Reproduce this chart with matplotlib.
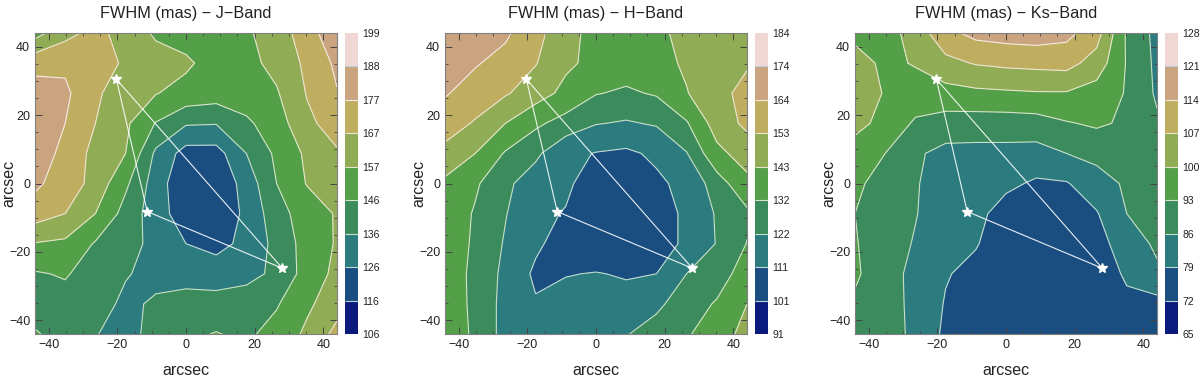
import matplotlib.pyplot as plt
import numpy as np
from matplotlib.colors import to_rgb
from matplotlib.ticker import MultipleLocator

plt.rcParams["font.family"] = ["Liberation Sans", "DejaVu Sans"]

# 11 x 11 sampling grid across the field (arcsec)
grid = np.linspace(-44, 44, 11)

# FWHM (mas); each row runs x = -44 .. 44, rows go from y = +44 down to y = -44
fwhm_j = [
    [153, 164, 170, 163, 155.6, 152, 151, 155.5, 162, 172, 185],
    [174, 175, 172, 165.5, 161, 159, 152, 154, 160, 169, 179],
    [181, 179, 168.5, 162, 157.5, 153, 151, 152, 156, 167.5, 176.5],
    [184, 177, 167, 159, 145.5, 137, 136.5, 144, 152, 165, 171],
    [183, 174, 164, 157, 134, 122, 122, 136, 148, 159, 166],
    [179, 172, 164, 148, 131, 118, 118, 130, 146, 157.5, 163],
    [172, 167, 157, 142, 131, 120, 119, 128, 142, 151, 158],
    [156.5, 155, 145, 140, 133, 126, 123, 128.5, 139, 150, 158],
    [145, 147, 141, 136.5, 134, 131, 131, 133, 138, 150, 160],
    [141, 142, 139, 134.5, 137, 141, 140, 141, 145, 155, 163],
    [147, 142, 136.5, 132, 140, 144, 146.5, 144, 150, 159, 170],
]
fwhm_h = [
    [170, 168, 166, 156, 147, 139, 138, 140, 147, 150, 151],
    [168, 165, 160, 153.5, 145, 140, 137, 139.5, 144.5, 149, 152],
    [165, 159, 154, 148, 140, 132.5, 130.5, 133, 142.5, 150, 156],
    [158, 152, 143, 134, 128, 122.5, 121, 123, 131, 148, 155],
    [150, 143, 131, 124, 114, 110.5, 109, 113, 121.5, 140, 148],
    [141, 133.5, 124, 117, 113.5, 104, 103, 109, 114, 127, 140],
    [139, 131, 122.5, 114, 110.2, 103, 102, 106, 113, 123, 130],
    [138, 130.5, 121, 113, 106, 103, 103, 106, 113, 122.5, 132.3],
    [138, 129.5, 119.5, 109, 110.5, 111.5, 110, 111, 122, 127, 137],
    [140, 129, 119, 112, 115, 116, 115, 120, 127, 133, 143],
    [143, 129, 119, 116, 117, 119, 121.5, 126, 131, 137, 147],
]
fwhm_ks = [
    [98, 97, 103, 112, 116, 117, 117.5, 116, 110, 92, 84],
    [103, 98.5, 100.5, 105, 107.5, 108.5, 109, 109.5, 104, 92.5, 84.5],
    [104, 99.5, 97, 97.5, 98.5, 99, 99.5, 99.5, 97, 92.5, 85],
    [102, 98, 92, 90, 89.5, 89.5, 90, 92.5, 94, 92, 87],
    [97, 93, 87, 84, 84, 84, 83.5, 86, 88, 90, 89],
    [94.5, 90, 86.5, 83, 82.5, 80.5, 78, 78.5, 83, 87, 90],
    [93, 89, 86.3, 82.5, 81, 76, 75, 75, 78.5, 86, 89],
    [93.5, 89, 85.5, 82, 79.5, 75, 74, 74.5, 76, 83, 87],
    [94, 89, 84, 79.5, 77, 74, 73.5, 74, 75, 80, 85],
    [92, 88.5, 84.5, 78.5, 76, 73.5, 73, 73.5, 74, 77.5, 76.5],
    [90, 88, 85, 77.5, 75, 73, 73, 73, 73, 76, 75.5],
]

levels_j = [106, 116, 126, 136, 146, 157, 167, 177, 188, 199]
levels_h = [91, 101, 111, 122, 132, 143, 153, 164, 174, 184]
levels_ks = [65, 72, 79, 86, 93, 100, 107, 114, 121, 128]

titles = ["FWHM (mas) \u2212 J\u2212Band", "FWHM (mas) \u2212 H\u2212Band",
          "FWHM (mas) \u2212 Ks\u2212Band"]

# guide star positions (arcsec)
star_x = [-20.3, -11.3, 28.1]
star_y = [30.5, -8.2, -24.8]

band_colors = ["#0b1a7d", "#1a4e80", "#2b7b7f", "#3b8b5d", "#53a049",
               "#90ac55", "#bfae5f", "#c9a47f", "#f0d7d3"]

# contour lines: a pale tint of the two neighbouring bands
line_colors = []
for k in range(len(band_colors) - 1):
    mid = (np.array(to_rgb(band_colors[k])) + np.array(to_rgb(band_colors[k + 1]))) / 2
    line_colors.append(tuple(mid * 0.3 + 0.7))

W, H = 1200, 380
fig = plt.figure(figsize=(W / 100, H / 100), dpi=100)

panels = [(fwhm_j, levels_j), (fwhm_h, levels_h), (fwhm_ks, levels_ks)]
lefts = [35, 445, 855]

for i, (data, levels) in enumerate(panels):
    ax = fig.add_axes([lefts[i] / W, 46 / H, 302 / W, 301 / H])
    cax = fig.add_axes([(lefts[i] + 310) / W, 46 / H, 13 / W, 301 / H])

    z = np.array(data)[::-1]
    cf = ax.contourf(grid, grid, z, levels=levels, colors=band_colors)
    cl = ax.contour(grid, grid, z, levels=levels[1:-1], colors=line_colors[1:],
                    linewidths=0.8)

    # triangle between the guide stars
    ax.plot(star_x + [star_x[0]], star_y + [star_y[0]], color="white", lw=0.8, alpha=0.9)
    ax.plot(star_x, star_y, ls="none", marker="*", ms=7, color="white", mec="white")

    ax.set_xlim(-44, 44)
    ax.set_ylim(-44, 44)
    ax.set_xticks([-40, -20, 0, 20, 40])
    ax.set_yticks([-40, -20, 0, 20, 40])
    ax.xaxis.set_minor_locator(MultipleLocator(5))
    ax.yaxis.set_minor_locator(MultipleLocator(5))
    ax.tick_params(which="both", direction="in", top=True, right=True,
                   colors="#444444", labelcolor="#222222", labelsize=9)
    ax.tick_params(which="major", length=5, width=0.7)
    ax.tick_params(which="minor", length=2.5, width=0.6)
    for sp in ax.spines.values():
        sp.set_color("#808080")
        sp.set_linewidth(0.8)

    ax.set_title(titles[i], fontsize=11.7, pad=10.5, color="#222222")
    ax.set_xlabel("arcsec", fontsize=11.5, color="#222222")
    ax.set_ylabel("arcsec", fontsize=11.5, color="#222222")
    ax.xaxis.set_label_coords(0.5, -0.098)
    ax.yaxis.set_label_coords(-0.063, 0.5)

    cb = fig.colorbar(cf, cax=cax, ticks=levels)
    cb.add_lines(cl)
    cb.outline.set_visible(False)
    cb.ax.set_yticklabels([str(v) for v in levels])
    cb.ax.tick_params(length=0, labelsize=7.5, pad=3, labelcolor="#222222")

fig.savefig("out.png", dpi=100)
